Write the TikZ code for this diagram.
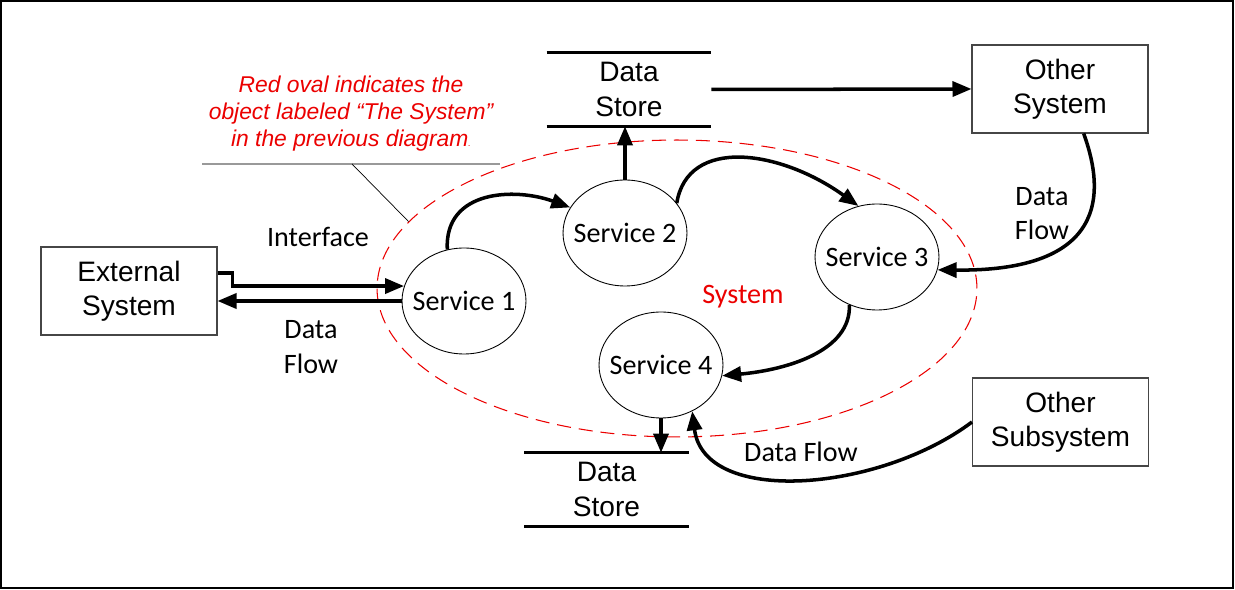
\documentclass[tikz,border=0pt]{standalone}
\usepackage{fontspec}
\setmainfont{Liberation Sans}
\newfontfamily\calibrifont{Carlito}
\usetikzlibrary{arrows.meta,calc,shapes.geometric}
\definecolor{sysred}{RGB}{235,0,0}
\definecolor{boxgray}{RGB}{70,70,70}

\begin{document}
\begin{tikzpicture}[x=0.02cm, y=-0.02cm,
  every node/.style={font=\fontsize{16}{19.5}\selectfont, align=center},
  box/.style={draw=boxgray, line width=0.6pt, minimum width=3.52cm, minimum height=1.76cm},
  service/.style={ellipse, draw, line width=0.5pt, fill=white, inner xsep=-6pt, inner ysep=0pt,
    minimum width=2.48cm, minimum height=2.12cm, font=\calibrifont\fontsize{16}{19.5}\selectfont},
  store/.style={minimum width=3.28cm, minimum height=1.46cm},
  storeline/.style={line width=2pt},
  flowtext/.style={font=\calibrifont\fontsize{16}{19.5}\selectfont},
  flow/.style={line width=2pt, -{Triangle[length=3.8mm, width=3mm]}},
  ]
\useasboundingbox (0,0) rectangle (1235,590);
\draw[line width=1.2pt] (1,1) rectangle (1233,588);

% the system boundary
\node[ellipse, draw=sysred, line width=0.6pt, dash pattern=on 8pt off 4.5pt,
  minimum width=12cm, minimum height=5.94cm] (sys) at (677,288.5) {};
\node[flowtext, text=sysred] (sysname) at (743,297) {System};

% note
\node[text=sysred, font=\itshape\fontsize{13}{15.4}\selectfont] (note) at (351,114)
  {Red oval indicates the\\object labeled “The System”\\in the previous diagram{\tiny.}};
\coordinate (noteL) at (202,164);
\coordinate (noteR) at (500,164);
\coordinate (noteM) at (352,164);
\draw[black!40, line width=1.1pt] (noteL) -- (noteR);
\draw[line width=0.4pt] (noteM) -- (sys.166);

% boxes and stores
\node[box] (ext) at (129,291) {External\\System};
\node[box] (osys) at (1060,89) {Other\\System};
\node[box] (osub) at (1060.5,422) {Other\\Subsystem};
\node[store] (dsTop) at (629,89.5) {Data\\Store};
\node[store] (dsBot) at (606.5,489.5) {Data\\Store};
\draw[storeline] (dsTop.north west) -- (dsTop.north east);
\draw[storeline] (dsTop.south west) -- (dsTop.south east);
\draw[storeline] (dsBot.north west) -- (dsBot.north east);
\draw[storeline] (dsBot.south west) -- (dsBot.south east);

% services
\node[service] (s1) at (464,301) {Service 1};
\node[service] (s2) at (625,233) {Service 2};
\node[service] (s3) at (877,257) {Service 3};
\node[service] (s4) at (661,365) {Service 4};

% labels
\node[flowtext] (iface) at (318,237) {Interface};
\node[flowtext] (dfLeft) at (311,347) {Data\\Flow};
\node[flowtext] (dfRight) at (1042,213.5) {Data\\Flow};
\node[flowtext] (dfBot) at (801,452) {Data Flow};

% flows
\draw[flow] ($(ext.east)+(0,-18)$) -- ++(15,0) |- (s1.166);
\draw[flow] (s1.west) -- (s1.west -| ext.east);
\draw[flow] (s1.108) .. controls +(-3,-60) and +(-55,-20) .. (s2.155);
\draw[flow] (s2.north) -- (s2.north |- dsTop.south);
\draw[flow] (dsTop.east) -- (osys.west);
\draw[flow] (s2.30) .. controls +(11,-67) and +(-78,-56) .. (s3.110);
\draw[flow] (osys.-62) .. controls +(17,47) and +(181,2) .. (s3.-12);
\draw[flow] (s3.-120) .. controls +(2,46) and +(65,-6) .. (s4.-10);
\draw[flow] (s4.south) -- (s4.south |- dsBot.north);
\draw[flow] (osub.west) .. controls +(-93,70) and +(12,95) .. (s4.-56);
\end{tikzpicture}
\end{document}
